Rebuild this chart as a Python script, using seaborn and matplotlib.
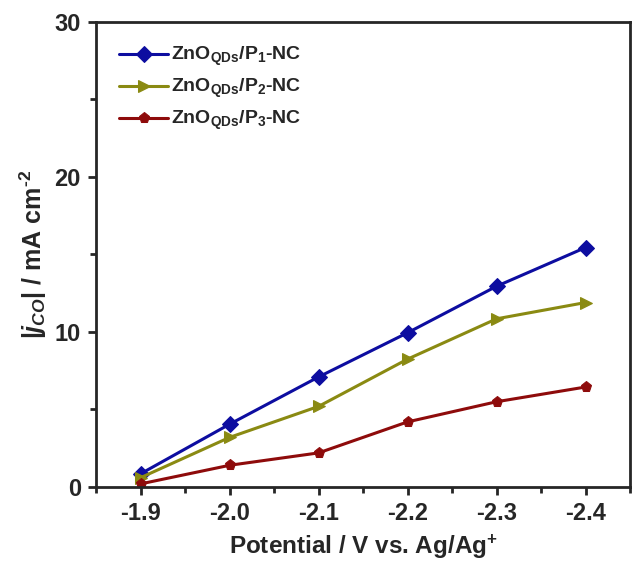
import pandas as pd
import matplotlib
matplotlib.use("Agg")
import matplotlib.pyplot as plt
import seaborn as sns
from matplotlib.ticker import MultipleLocator

# data
potential = [-1.9, -2.0, -2.1, -2.2, -2.3, -2.4]
p1_nc = [0.85, 4.05, 7.1, 9.95, 12.95, 15.45]
p2_nc = [0.6, 3.2, 5.2, 8.25, 10.85, 11.9]
p3_nc = [0.2, 1.4, 2.2, 4.2, 5.5, 6.45]

sns.set_style("ticks")
plt.rcParams['font.family'] = ['Liberation Sans', 'DejaVu Sans']
plt.rcParams['font.weight'] = 'bold'
plt.rcParams['mathtext.fontset'] = 'custom'
plt.rcParams['mathtext.rm'] = 'Liberation Sans:bold'
plt.rcParams['mathtext.bf'] = 'Liberation Sans:bold'
plt.rcParams['mathtext.it'] = 'Liberation Sans:italic'
plt.rcParams['mathtext.sf'] = 'Liberation Sans'
plt.rcParams['mathtext.default'] = 'rm'

fig = plt.figure(figsize=(6.32, 5.63), dpi=100)
ax = fig.add_axes([0.152, 0.135, 0.845, 0.826])

series = [
    (p1_nc, r'ZnO$_{QDs}$/P$_1$-NC', '#0d0da0', 'D'),
    (p2_nc, r'ZnO$_{QDs}$/P$_2$-NC', '#8a8a12', '>'),
    (p3_nc, r'ZnO$_{QDs}$/P$_3$-NC', '#8e0b0b', 'p'),
]
for vals, lab, col, mk in series:
    sns.lineplot(x=potential, y=vals, ax=ax, label=lab, color=col, marker=mk,
                 markersize=8, markeredgecolor=col, linewidth=2.2)

ax.set_xlim(-1.85, -2.45)
ax.set_ylim(0, 30)
ax.xaxis.set_major_locator(MultipleLocator(0.1))
ax.xaxis.set_minor_locator(MultipleLocator(0.05))
ax.yaxis.set_major_locator(MultipleLocator(10))
ax.yaxis.set_minor_locator(MultipleLocator(5))
ax.set_xticks(potential)
ax.set_xticklabels(['-1.9', '-2.0', '-2.1', '-2.2', '-2.3', '-2.4'])
ax.tick_params(axis='both', which='major', direction='out', length=6, width=2,
               labelsize=17, top=False, right=False, pad=5)
ax.tick_params(axis='both', which='minor', direction='out', length=4, width=2,
               top=False, right=False)
for lbl in ax.get_xticklabels() + ax.get_yticklabels():
    lbl.set_fontweight('bold')
for sp in ax.spines.values():
    sp.set_linewidth(2)
    sp.set_visible(True)

ax.set_xlabel(r'Potential / V vs. Ag/Ag$^{+}$', fontsize=17.5, fontweight='bold', labelpad=5)
ax.set_ylabel(r'$\mathsf{|}\mathit{j}_{\mathit{CO}}\mathsf{|}$ / mA cm$^{\text{-}2}$',
              fontsize=18, fontweight='bold', labelpad=4)

leg = ax.legend(loc='upper left', frameon=False, fontsize=14, handlelength=2.5,
                borderaxespad=0.6, labelspacing=0.45, handletextpad=0.15,
                borderpad=0.6)
for t in leg.get_texts():
    t.set_fontweight('bold')

fig.savefig('out.png', dpi=100)
